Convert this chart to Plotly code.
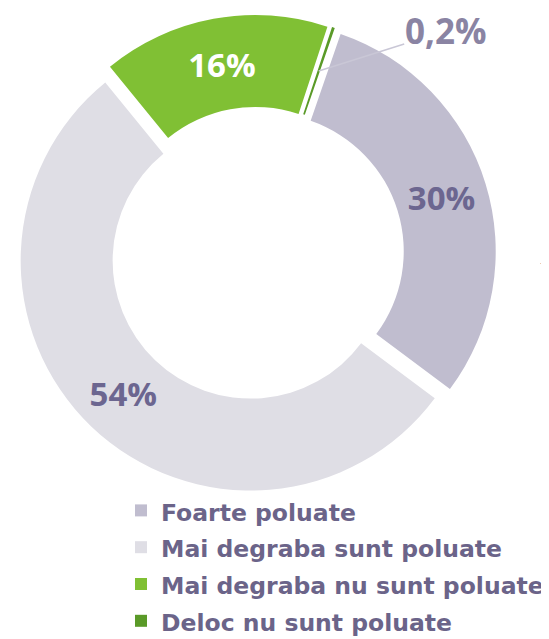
import math
import plotly.graph_objects as go

categories = ["Foarte poluate", "Mai degraba sunt poluate",
              "Mai degraba nu sunt poluate", "Deloc nu sunt poluate"]
values = [30, 54, 16, 0.2]
value_labels = ["30%", "54%", "16%", "0,2%"]
colors = ["#c0bdcf", "#dfdee5", "#80c034", "#5a9a28"]

W, H = 549, 639
ROTATION = 19
HOLE = 0.6
PULL = 0.04
DOM_X = [0.0179, 0.8891]
DOM_Y = [0.2407, 0.9893]

legend_names = ["<span style='font-size:23.5px'>%s</span>" % c for c in categories]

fig = go.Figure(go.Pie(
    labels=legend_names,
    values=values,
    text=value_labels,
    textinfo="text",
    hoverinfo="label+percent",
    sort=False,
    direction="clockwise",
    rotation=ROTATION,
    hole=HOLE,
    pull=[PULL] * len(values),
    marker=dict(colors=colors, line=dict(width=0)),
    textposition=["inside", "inside", "inside", "none"],
    insidetextorientation="horizontal",
    textfont=dict(family="Open Sans", size=33, weight="bold",
                  color=["#6c6690", "#6c6690", "#ffffff", "#8a84a3"]),
    domain=dict(x=DOM_X, y=DOM_Y),
))

# leader-line label for the tiny last slice, anchored at that slice's mid-angle
total = sum(values)
mid_angle = ROTATION + 360 * (sum(values[:-1]) + values[-1] / 2) / total
cx = W * (DOM_X[0] + DOM_X[1]) / 2
cy = H * (1 - (DOM_Y[0] + DOM_Y[1]) / 2)
R = min(W * (DOM_X[1] - DOM_X[0]), H * (DOM_Y[1] - DOM_Y[0])) / (2 + 2 * PULL)
r_tip = R * ((1 + HOLE) / 2 + PULL)
tip_x = cx + r_tip * math.sin(math.radians(mid_angle))
tip_y = cy - r_tip * math.cos(math.radians(mid_angle))
fig.add_annotation(
    text="<b>%s</b>" % value_labels[-1],
    x=tip_x / W, y=1 - tip_y / H, xref="paper", yref="paper",
    ax=127, ay=-40, showarrow=True, arrowhead=0, arrowwidth=1.5,
    arrowcolor="#c9c7d6", borderpad=0,
    font=dict(family="Open Sans", size=35, color="#8a84a3"),
)

fig.add_annotation(text="–", x=535 / W, y=1 - 254 / H, xref="paper", yref="paper",
                   xanchor="center", yanchor="middle", borderpad=0,
                   showarrow=False, font=dict(family="DejaVu Sans", size=14, color="#6c6690"))

fig.update_layout(
    width=W, height=H,
    margin=dict(l=0, r=0, t=0, b=0, autoexpand=False),
    paper_bgcolor="white", plot_bgcolor="white",
    showlegend=True,
    legend=dict(
        x=113 / W, y=1 - 479 / H, xanchor="left", yanchor="top",
        orientation="v",
        font=dict(family="DejaVu Sans", size=26, color="#6b6489", weight="bold"),
        bgcolor="rgba(0,0,0,0)",
        traceorder="normal",
    ),
    font=dict(family="Open Sans"),
)

fig.write_html("out.html")
